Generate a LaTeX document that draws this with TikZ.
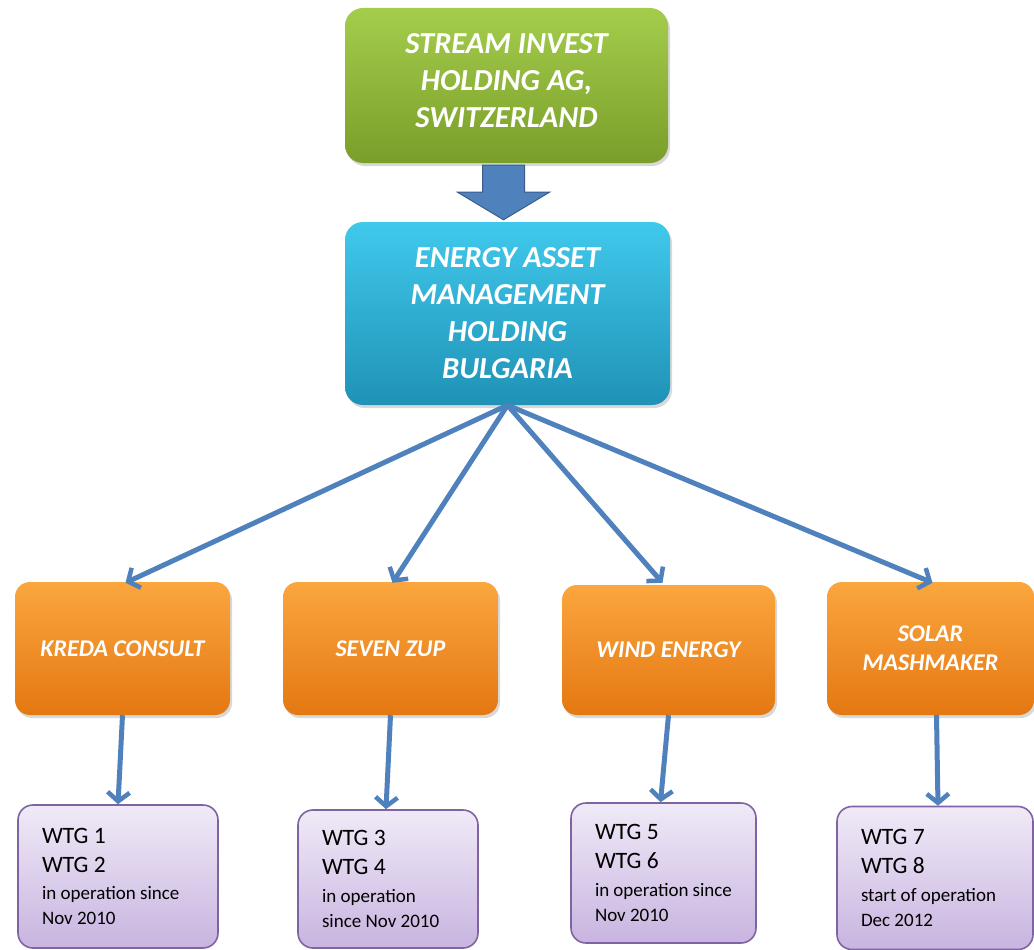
\documentclass[tikz,border=0pt]{standalone}
\usepackage{fontspec}
\setmainfont{Carlito}
\usetikzlibrary{arrows.meta,shadows,calc}
\definecolor{grnT}{HTML}{A4CD4C}
\definecolor{grnB}{HTML}{7A9E2A}
\definecolor{bluT}{HTML}{40C9EC}
\definecolor{bluB}{HTML}{1F92B6}
\definecolor{orgT}{HTML}{FBA63E}
\definecolor{orgB}{HTML}{E47812}
\definecolor{purT}{HTML}{F0EAF7}
\definecolor{purB}{HTML}{C8B4E0}
\definecolor{purD}{HTML}{8064A2}
\definecolor{arrc}{HTML}{4F81BD}
\definecolor{arrd}{HTML}{385D8A}
\tikzset{
  box/.style={rectangle, rounded corners=18pt, inner sep=0pt, align=center, text=white,
    execute at begin node={\spaceskip=0pt\xspaceskip=0pt},
    drop shadow={opacity=0.3, shadow xshift=2pt, shadow yshift=-3pt}},
  headbox/.style={box, font={\fontsize{30.5}{37}\selectfont\bfseries\itshape}},
  compbox/.style={box, rounded corners=15pt, top color=orgT, bottom color=orgB,
    minimum height=133pt, font={\fontsize{24}{29}\selectfont\bfseries\itshape}},
  wtgbox/.style={rectangle, rounded corners=15pt, draw=purD, line width=1.6pt,
    top color=purT, bottom color=purB, inner sep=0pt, align=left, text=black,
    execute at begin node={\spaceskip=0pt\xspaceskip=0pt\parskip=0pt},
    font={\fontsize{23.5}{29}\selectfont}},
  conn/.style={draw=arrc, line width=5pt, -{Straight Barb[length=9pt,width=22pt,line width=4.5pt]}}
}
\newcommand{\smtxt}{\fontsize{19}{24.5}\selectfont\vspace{3pt}}
\newcommand{\lastln}{\par\vspace{-4pt}}
\begin{document}
\begin{tikzpicture}[x=1pt,y=-1pt]
\useasboundingbox (0,0) rectangle (1034,950);
\fill[white] (0,0) rectangle (1034,950);

\node[headbox, top color=grnT, bottom color=grnB, minimum width=323pt, minimum height=155pt,
  text depth=10pt]
  (top) at (506.5,85.5) {STREAM INVEST\\HOLDING AG,\\SWITZERLAND};
\node[headbox, top color=bluT, bottom color=bluB, minimum width=325pt, minimum height=183pt]
  (mid) at (507.5,313.5) {ENERGY ASSET\\MANAGEMENT\\HOLDING\\BULGARIA};

% fat arrow
\coordinate (fa) at ($(top.south)+(-3,2)$);
\coordinate (fb) at ($(mid.north)+(-4,-2)$);
\filldraw[fill=arrc, draw=arrd, line width=1pt]
  ($(fa)+(-21,0)$) -- ($(fa)+(21,0)$) -- ($(fa)+(21,27)$) -- ($(fa)+(46,27)$)
  -- (fb) -- ($(fa)+(-46,27)$) -- ($(fa)+(-21,27)$) -- cycle;

\node[compbox, minimum width=215pt] (o1) at (122.5,648.5) {KREDA CONSULT};
\node[compbox, minimum width=215pt] (o2) at (390.5,648.5) {SEVEN ZUP};
\node[compbox, minimum width=213pt, minimum height=130pt] (o3) at (668.5,650) {WIND ENERGY};
\node[compbox, minimum width=207pt] (o4) at (930.5,648.5) {SOLAR\\MASHMAKER};

\node[wtgbox, minimum width=200pt, minimum height=143pt, text width=152pt] (p1) at (118,876.5)
  {WTG 1\par WTG 2\par\smtxt in operation since\lastln Nov 2010};
\node[wtgbox, minimum width=180pt, minimum height=138pt, text width=132pt] (p2) at (388,879)
  {WTG 3\par WTG 4\par\smtxt in operation\lastln since Nov 2010};
\node[wtgbox, minimum width=185pt, minimum height=140pt, text width=137pt] (p3) at (663.5,873)
  {WTG 5\par WTG 6\par\smtxt in operation since\lastln Nov 2010};
\node[wtgbox, minimum width=196pt, minimum height=143pt, text width=148pt] (p4) at (935,878)
  {WTG 7\par WTG 8\par\smtxt start of operation\lastln Dec 2012};

\draw[conn] (mid.south) -- ($(o1.north)+(3,1)$);
\draw[conn] (mid.south) -- ($(o2.north)+(2,1)$);
\draw[conn] (mid.south) -- ($(o3.north)+(-6,-2)$);
\draw[conn] (mid.south) -- ($(o4.north)+(2,1)$);

\draw[conn] (o1.south) -- (p1.north);
\draw[conn] (o2.south) -- ($(p2.north)+(-2,0)$);
\draw[conn] (o3.south) -- ($(p3.north)+(-3,0)$);
\draw[conn] ($(o4.south)+(6,0)$) -- ($(p4.north)+(3,0)$);
\end{tikzpicture}
\end{document}
